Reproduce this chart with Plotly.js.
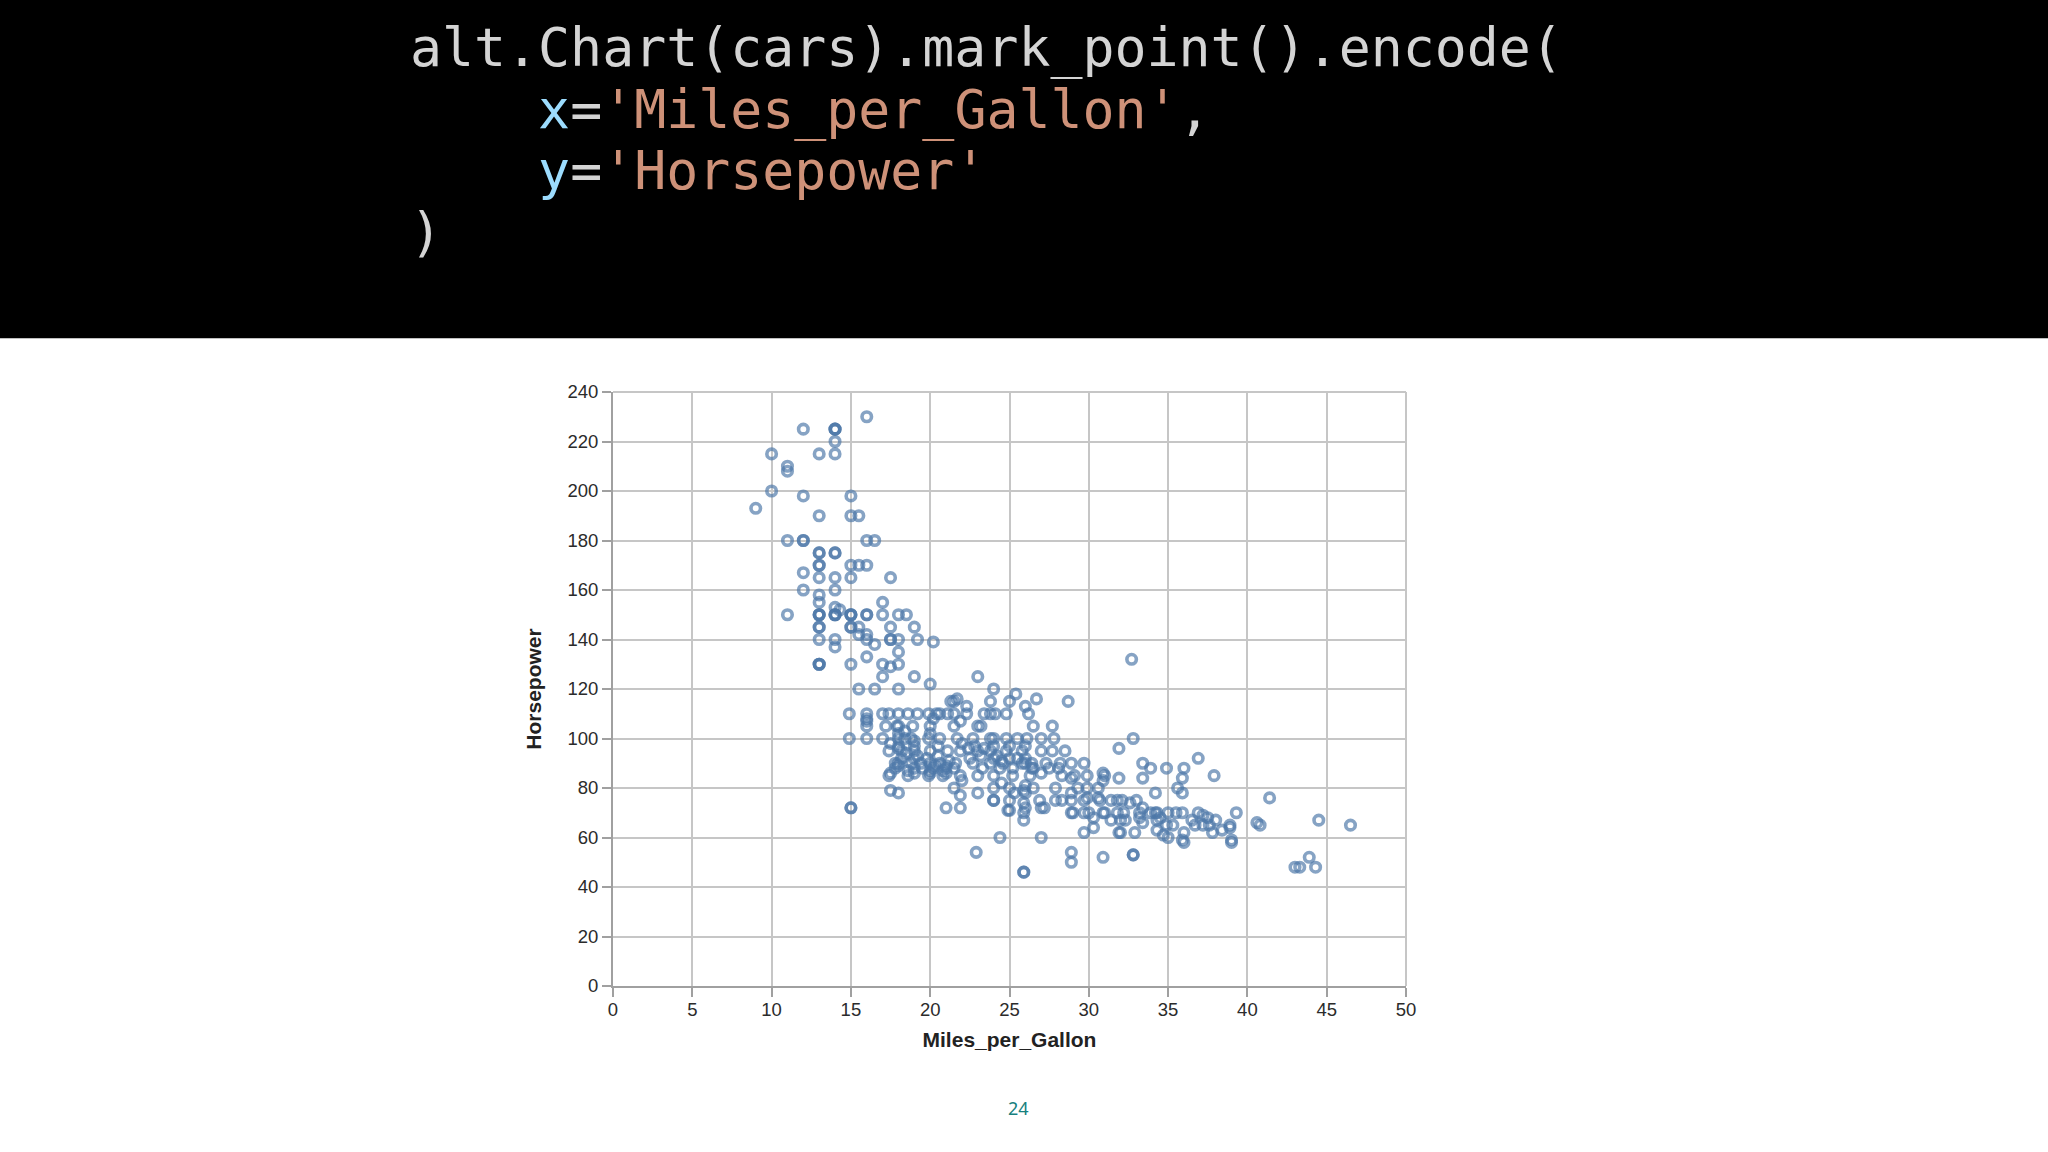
<!DOCTYPE html>
<html>
<head>
<meta charset="utf-8">
<script src="https://cdn.plot.ly/plotly-3.0.1.min.js"></script>
<style>
  html, body { margin: 0; padding: 0; background: #ffffff; }
  #chart { width: 2048px; height: 1152px; }
</style>
</head>
<body>
<div id="chart"></div>
<script>
// ---- data ----
const mpgHigh = [16,12,14,14,14,14,10,13,14,11,11,10,12,15,9,13,15,15.5,11,12,12,16,16.5,13,13,14,14,13,13,15,15.5,16,12,13,14,15,17.5,12,14,13,13,14,14.3,17,11,13,13,13,14,14,14,15,15,15,16,16,17,18,18.5,13,13,15,15,15.5,17.5,19,13,14,14,15.5,16,16.5,17.5,17.5,18,19.2,20.2,13,13,13,15,16,17,17.5,18,18,17,19,20,23,24,15.5,16.5,18,16];
const hpHigh  = [230,225,225,225,225,220,215,215,215,210,208,200,198,198,193,190,190,190,180,180,180,180,180,175,175,175,175,170,170,170,170,170,167,165,165,165,165,160,160,158,155,153,152,155,150,150,150,150,150,150,150,150,150,150,150,150,150,150,150,145,145,145,145,145,145,145,140,140,137,142,140,138,140,140,140,140,139,130,130,130,130,133,130,129,130,135,125,125,122,125,120,120,120,120,142];

const mpgMid = [21.3,21.5,21.7,22.3,23.8,25,25.4,26,26.7,28.7,
  14.9,16,17,17.4,18,18.6,19.2,19.9,20.4,20.6,21.1,21.5,22.3,23.4,23.8,24.1,24.8,26.2,
  16,16,18,17.9,18.9,20,21.5,21.9,23,23.2,26.5,27.7,20.2,
  14.9,16,17,18,18.8,19.9,20.6,21.7,22.7,23.8,24.8,25.5,26.1,27,27.8,18,20,
  17.4,18.2,19,20,21.1,21.9,23,23.8,24.8,25.8,27,27.7,28.5,18,19,24,22,26,
  18,18.8,19.4,20,20.6,21.6,22.7,23.8,24.6,25.8,26.4,27.3,28.2,28.9,29.7,19,24,25,26,
  17.8,19,20.2,21,23.3,24.4,26.4,28.1,18,21.5,
  17.4,18.6,19.9,20.8,21.9,23,24,25.2,26.3,27,28.3,29.1,29.9,31,17.5,20,21,
  21.5,24,25,26.5,27.9,29.3,30.6,29.9,28.9,30.9,24.5,26,22,25.9,
  17.5,18,18.5,18.2,17.8,18.6,19,19.5,20,20.3,20.8,21,19.8,20.5,21.2,19.2,22.4,22.8,23.4,22.5,23.2,24.2,24.5,25.5,26,26.5,27.5,25.2,19,18.4,20.5,24,25,17.2,16,18.4,17.5];
const hpMid = [115,115,116,113,115,115,118,113,116,115,
  110,110,110,110,110,110,110,110,110,110,110,110,110,110,110,110,110,110,
  105,107,105,105,105,105,105,107,105,105,105,105,108,
  100,100,100,100,100,100,100,100,100,100,100,100,100,100,100,102,102,
  95,95,95,95,95,95,95,95,95,95,95,95,95,97,97,97,98,97,
  90,90,90,90,90,90,90,90,90,90,90,90,90,90,90,92,92,92,92,
  88,88,88,88,88,88,88,88,89,88,
  85,85,85,85,85,85,85,85,85,86,85,85,85,85,86,86,86,
  80,80,80,80,80,80,80,80,84,83,82,81,83,79,
  98,96,94,92,90,87,86,88,87,89,87,89,92,93,91,93,96,97,96,92,93,93,91,92,90,88,88,88,99,100,97,100,97,105,108,103,79];

const mpgLow = [18,23,26,21.9,25.3,24,24,25,26.9,27.9,28.3,28.9,28.9,29.7,29.9,30.6,30.7,31.4,31.8,32.1,33,32.6,25.9,34.2,35.6,35.9,
  15,15,21,21.9,25,26,24.9,25.9,27,27.2,28.9,29,30,31,29.7,30.9,31.8,32.2,33.2,33.4,33.9,34.2,34.3,35,35.9,36.9,35.5,39.3,37.2,
  25.9,30.3,31.4,32.3,32,33.2,33.4,34.3,34.5,35.3,34.9,36.5,36.7,37.5,37.2,38,37.6,38.9,38.9,40.6,40.8,44.5,46.5,41.4,
  27,24.4,29.7,30.3,31.9,32,34.3,35,36,36,37.8,38.4,39,39,35.9,34.7,32.9,
  22.9,25.9,25.9,28.9,28.9,30.9,32.8,32.8,43,43.3,43.9,44.3,
  32.7,32.8,31.9,36.9,37.9,33.4,33.9,34.9,36,35.9,31.9,30.9,33.4];
const hpLow = [78,78,78,77,78,75,75,75,75,75,75,78,75,75,76,76,75,75,75,75,75,74,74,78,80,78,
  72,72,72,72,71,72,71,70,72,72,70,70,70,70,70,70,70,70,70,72,70,70,70,70,70,70,70,70,69,
  67,68,67,67,67,68,66,67,68,65,65,67,65,68,65,67,65,65,64,66,65,67,65,76,
  60,60,62,64,62,62,63,60,62,58,62,63,59,58,59,61,62,
  54,46,46,54,50,52,53,53,48,48,52,48,
  132,100,96,92,85,90,88,88,88,84,84,86,84];

const mpg = mpgHigh.concat(mpgMid, mpgLow);
const horsepower = hpHigh.concat(hpMid, hpLow);

const xTicks = [0,5,10,15,20,25,30,35,40,45,50];
const yTicks = [0,20,40,60,80,100,120,140,160,180,200,220,240];

const codeLines = [
  '<span style="color:#d4d4d4">alt.Chart(cars).mark_point().encode(</span>',
  '<span style="color:#d4d4d4">\u00a0\u00a0\u00a0\u00a0</span><span style="color:#9cdcfe">x</span><span style="color:#d4d4d4">=</span><span style="color:#ce9178">\'Miles_per_Gallon\'</span><span style="color:#d4d4d4">,</span>',
  '<span style="color:#d4d4d4">\u00a0\u00a0\u00a0\u00a0</span><span style="color:#9cdcfe">y</span><span style="color:#d4d4d4">=</span><span style="color:#ce9178">\'Horsepower\'</span>',
  '<span style="color:#d4d4d4">)</span>'
];
const pageNumber = '24';

// ---- layout geometry (pixels) ----
const W = 2048, H = 1152;
const L = 612.7, R = 1405.7, T = 391.7, B = 986;
const pw = R - L, ph = B - T;
const px = v => (v - L) / pw;
const py = v => (B - v) / ph;

const annotations = [];
const codeCenters = [48, 109.4, 170.8, 232.2];
codeLines.forEach((t, i) => {
  annotations.push({
    xref: 'paper', yref: 'paper', x: px(408), y: py(codeCenters[i]),
    xanchor: 'left', yanchor: 'middle', showarrow: false, align: 'left',
    text: t, font: {family: 'DejaVu Sans Mono', size: 53.2, color: '#d4d4d4'}
  });
});
annotations.push({
  xref: 'paper', yref: 'paper', x: px(1018), y: py(1108),
  xanchor: 'center', yanchor: 'middle', showarrow: false,
  text: pageNumber, font: {family: 'Noto Sans', size: 18, color: '#17807e'}
});

const gridColor = '#c6c6c6';
const axisCommon = {
  showgrid: true, gridcolor: gridColor, gridwidth: 2,
  zeroline: false, showline: true, linecolor: '#a0a0a0', linewidth: 2,
  ticks: 'outside', ticklen: 9, tickwidth: 2, tickcolor: '#a0a0a0',
  tickfont: {family: 'Liberation Sans', size: 18.5, color: '#2b2b2b'},
  fixedrange: true
};

const layout = {
  width: W, height: H,
  margin: {l: L, r: W - R, t: T, b: H - B, pad: 0},
  paper_bgcolor: '#ffffff', plot_bgcolor: '#ffffff',
  showlegend: false,
  xaxis: Object.assign({}, axisCommon, {
    range: [0, 50], tickmode: 'array', tickvals: xTicks, ticktext: xTicks.map(String),
    ticklabelstandoff: -3,
    title: {text: 'Miles_per_Gallon', standoff: 13,
      font: {family: 'Liberation Sans', size: 21, color: '#222222', weight: 'bold'}}
  }),
  yaxis: Object.assign({}, axisCommon, {
    range: [0, 240], tickmode: 'array', tickvals: yTicks, ticktext: yTicks.map(String),
    title: {text: 'Horsepower', standoff: 20,
      font: {family: 'Liberation Sans', size: 21, color: '#222222', weight: 'bold'}}
  }),
  shapes: [
    {type: 'rect', xref: 'paper', yref: 'paper', layer: 'below',
      x0: px(-5), x1: px(W + 5), y0: py(338), y1: py(-5),
      fillcolor: '#000000', line: {width: 0}},
    {type: 'line', xref: 'paper', yref: 'paper', layer: 'below',
      x0: 0, x1: 1, y0: 1, y1: 1, line: {color: gridColor, width: 2}},
    {type: 'line', xref: 'paper', yref: 'paper', layer: 'below',
      x0: 1, x1: 1, y0: 0, y1: 1, line: {color: gridColor, width: 2}}
  ],
  annotations: annotations
};

const trace = {
  type: 'scatter', mode: 'markers', x: mpg, y: horsepower,
  cliponaxis: false,
  marker: {symbol: 'circle-open', size: 9.5, color: '#4c78a8', opacity: 0.68,
    line: {width: 3.6}},
  hoverinfo: 'x+y'
};

Plotly.newPlot('chart', [trace], layout, {displayModeBar: false, staticPlot: true});
</script>
</body>
</html>
